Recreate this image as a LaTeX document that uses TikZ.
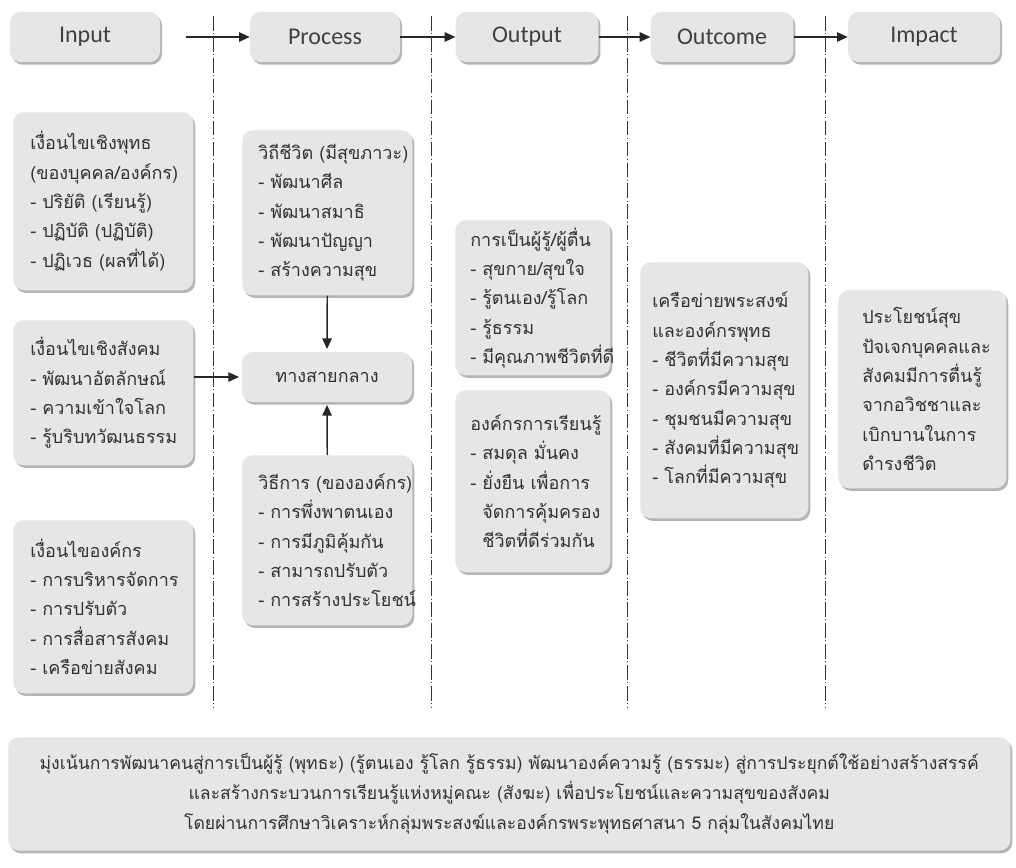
\documentclass[tikz,border=0pt]{standalone}
\usepackage{fontspec}
\setmainfont[Script=Thai]{Loma}
\newfontfamily\hdfont{Carlito}
\usetikzlibrary{shadows,arrows.meta}
\definecolor{boxfill}{RGB}{230,230,232}
\definecolor{txt}{RGB}{50,50,50}
\definecolor{shad}{RGB}{150,150,150}
\newcommand\mybox[7]{% name, x, y, w, h, pad, text
 \node[box, anchor=north west, minimum width=#4*0.75pt, minimum height=#5*0.75pt] (#1) at (#2,#3) {};
 \node[ttext, anchor=west] (#1t) at ([xshift=#6*0.75pt]#1.west) {#7};
}
\begin{document}
\begin{tikzpicture}[x=0.75pt,y=-0.75pt,
 box/.style={fill=boxfill, rounded corners=8pt, drop shadow={shadow xshift=1.5pt,shadow yshift=-2pt,fill=shad,opacity=0.7}, text=txt, inner sep=0pt},
 hbox/.style={box, minimum height=37.5pt, font=\hdfont\fontsize{18}{20}\selectfont, text=black!75},
 ttext/.style={align=left, inner sep=0pt, text=txt, font=\fontsize{13.5}{22}\selectfont},
 arr/.style={line width=1.1pt, -{Triangle[length=8pt,width=7pt]}, draw=black!85},
 sep/.style={line width=0.7pt, draw=black!80, dash pattern=on 11pt off 2pt on 0.7pt off 2pt}
]
\fill[white] (0,0) rectangle (1016,867);
\useasboundingbox (0,0) rectangle (1016,867);
% separators
\draw[sep] (213,16) -- (213,708);
\draw[sep] (431,16) -- (431,708);
\draw[sep] (627,16) -- (627,708);
\draw[sep] (825,16) -- (825,708);
% header
\node[hbox, minimum width=112.5pt] (hin) at (85,37) {Input};
\node[hbox, minimum width=112.5pt] (hpr) at (325,37) {Process};
\node[hbox, minimum width=107pt] (hout) at (527,37) {Output};
\node[hbox, minimum width=107pt] (hoc) at (722,37) {Outcome};
\node[hbox, minimum width=114pt] (him) at (924,37) {Impact};
\draw[arr] ([xshift=19pt]hin.east) -- (hpr.west);
\draw[arr] (hpr.east) -- (hout.west);
\draw[arr] (hout.east) -- (hoc.west);
\draw[arr] (hoc.east) -- (him.west);
% input column
\mybox{L1}{13}{112}{180}{178}{17}
 {เงื่อนไขเชิงพุทธ\\(ของบุคคล/องค์กร)\\- ปริยัติ (เรียนรู้)\\- ปฏิบัติ (ปฏิบัติ)\\- ปฏิเวธ (ผลที่ได้)}
\mybox{L2}{13}{320}{180}{145}{17}
 {เงื่อนไขเชิงสังคม\\- พัฒนาอัตลักษณ์\\- ความเข้าใจโลก\\- รู้บริบทวัฒนธรรม}
\mybox{L3}{13}{520}{180}{173}{17}
 {เงื่อนไของค์กร\\- การบริหารจัดการ\\- การปรับตัว\\- การสื่อสารสังคม\\- เครือข่ายสังคม}
% process column
\mybox{PA}{242}{130}{170}{165}{16}
 {วิถีชีวิต (มีสุขภาวะ)\\- พัฒนาศีล\\- พัฒนาสมาธิ\\- พัฒนาปัญญา\\- สร้างความสุข}
\node[box, minimum width=127.5pt, minimum height=37.5pt, font=\fontsize{13.5}{22}\selectfont] (PM) at (327,377) {ทางสายกลาง};
\mybox{PB}{242}{455}{170}{170}{16}
 {วิธีการ (ขององค์กร)\\- การพึ่งพาตนเอง\\- การมีภูมิคุ้มกัน\\- สามารถปรับตัว\\- การสร้างประโยชน์}
\draw[arr] (PA.south) -- ([yshift=2pt]PM.north);
\draw[arr] (PB.north) -- ([yshift=-2pt]PM.south);
\draw[arr] (PM.west -| L2.east) -- ([xshift=-2pt]PM.west);
% output column
\mybox{O1}{455}{220}{155}{155}{15}
 {การเป็นผู้รู้/ผู้ตื่น\\- สุขกาย/สุขใจ\\- รู้ตนเอง/รู้โลก\\- รู้ธรรม\\- มีคุณภาพชีวิตที่ดี}
\mybox{O2}{455}{390}{155}{182}{15}
 {องค์กรการเรียนรู้\\- สมดุล มั่นคง\\- ยั่งยืน เพื่อการ\\\phantom{- }จัดการคุ้มครอง\\\phantom{- }ชีวิตที่ดีร่วมกัน}
% outcome column
\mybox{OC}{640}{262}{168}{256}{12}
 {เครือข่ายพระสงฆ์\\และองค์กรพุทธ\\- ชีวิตที่มีความสุข\\- องค์กรมีความสุข\\- ชุมชนมีความสุข\\- สังคมที่มีความสุข\\- โลกที่มีความสุข}
% impact column
\mybox{IM}{838}{290}{168}{198}{24}
 {ประโยชน์สุข\\ปัจเจกบุคคลและ\\สังคมมีการตื่นรู้\\จากอวิชชาและ\\เบิกบานในการ\\ดำรงชีวิต}
% bottom
\node[box, anchor=north west, minimum width=751.5pt, minimum height=85pt, align=center, font=\fontsize{13.2}{22.5}\selectfont] (BT) at (8,737)
 {มุ่งเน้นการพัฒนาคนสู่การเป็นผู้รู้ (พุทธะ) (รู้ตนเอง รู้โลก รู้ธรรม) พัฒนาองค์ความรู้ (ธรรมะ) สู่การประยุกต์ใช้อย่างสร้างสรรค์\\และสร้างกระบวนการเรียนรู้แห่งหมู่คณะ (สังฆะ) เพื่อประโยชน์และความสุขของสังคม\\โดยผ่านการศึกษาวิเคราะห์กลุ่มพระสงฆ์และองค์กรพระพุทธศาสนา 5 กลุ่มในสังคมไทย};
\end{tikzpicture}
\end{document}
